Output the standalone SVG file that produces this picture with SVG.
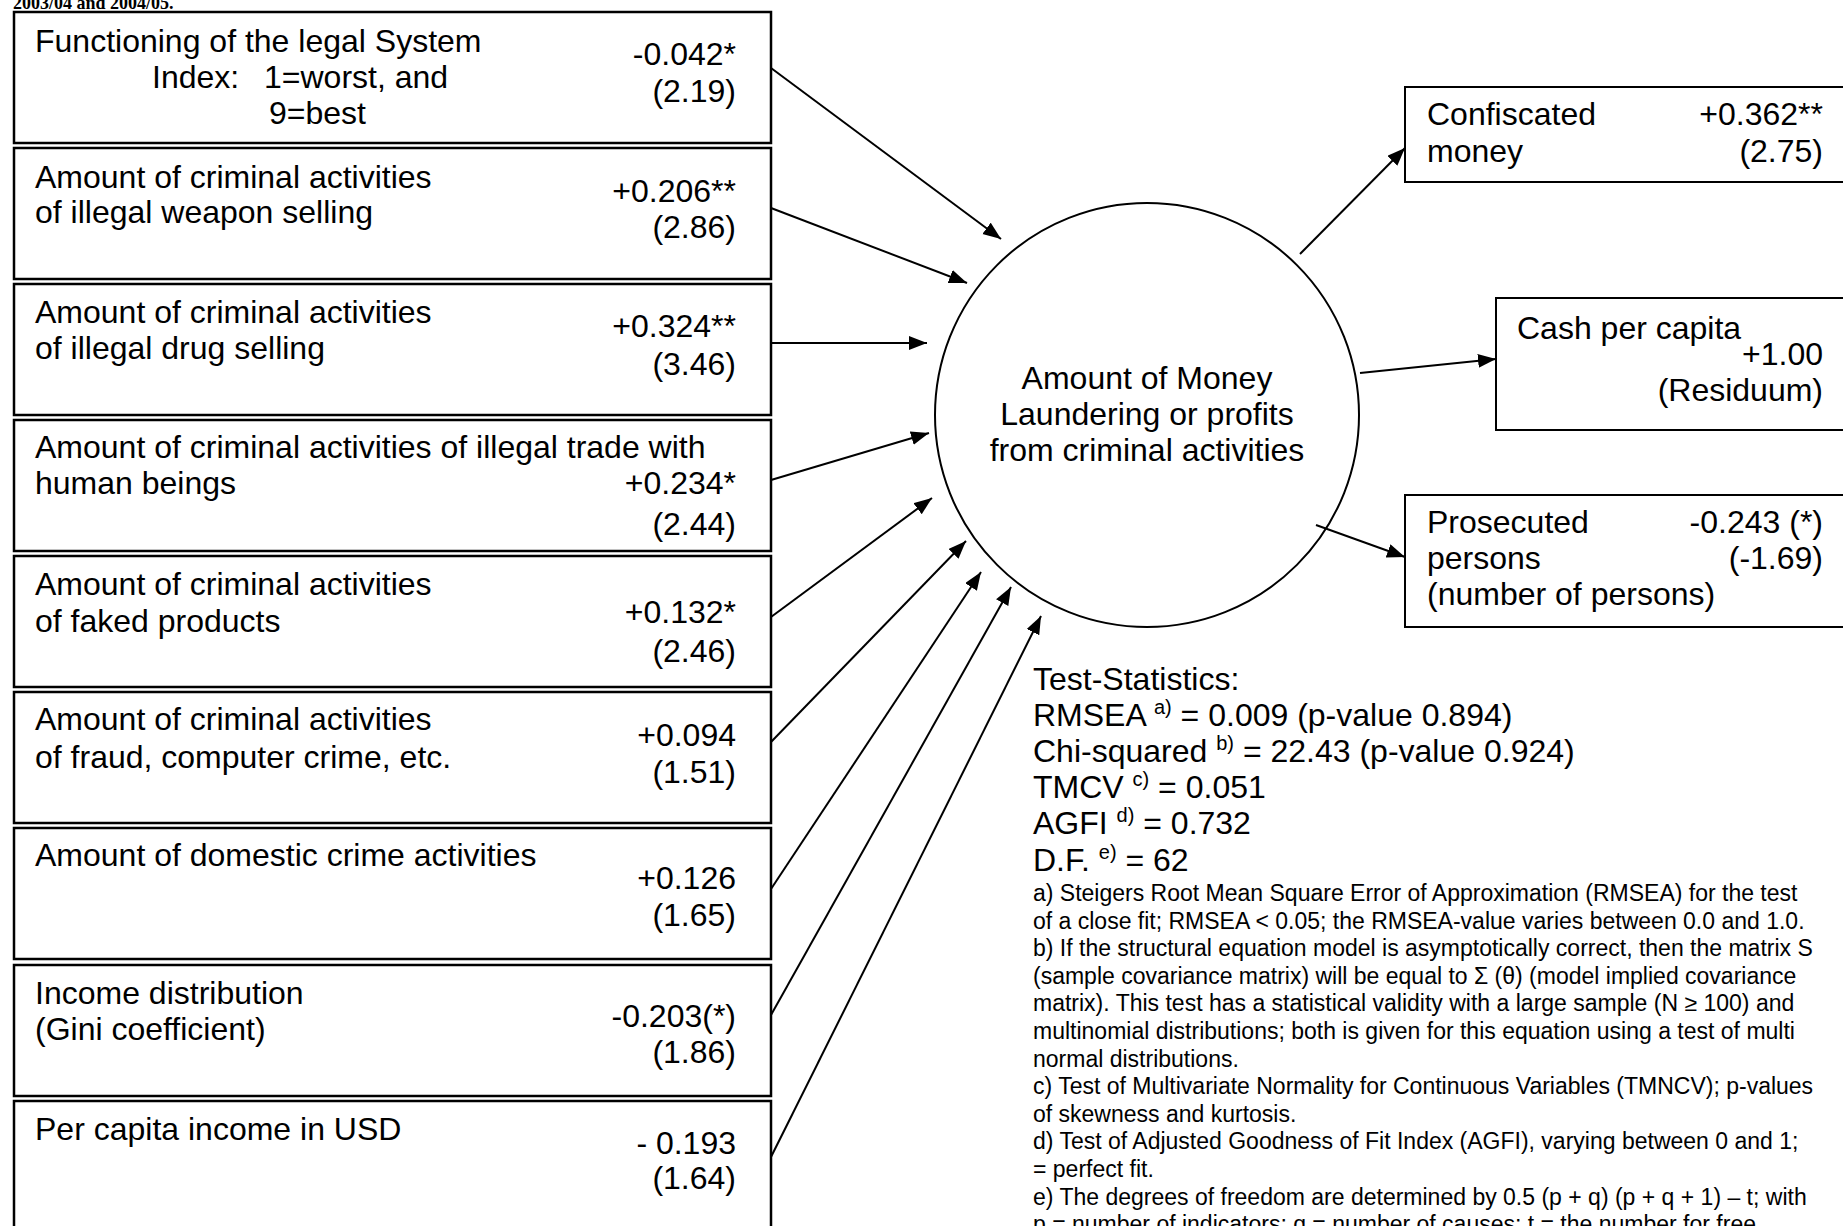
<svg xmlns="http://www.w3.org/2000/svg" width="1843" height="1226" viewBox="0 0 1843 1226">
<style>
text{font-family:"Liberation Sans",Arial,sans-serif;fill:#000}
.t{font-size:32px}
.v{font-size:32px;text-anchor:end}
.s{font-size:32px}
.sup{font-size:20px}
.f{font-size:23px}
.lb{fill:#fff;stroke:#000;stroke-width:2.5}
.rb{fill:#fff;stroke:#000;stroke-width:2}
.cn{stroke:#000;stroke-width:2;fill:none;marker-end:url(#ah)}
</style>
<defs>
<marker id="ah" markerUnits="userSpaceOnUse" markerWidth="20" markerHeight="16" refX="18" refY="7" orient="auto"><path d="M0,0 L18,7 L0,14 z" fill="#000"/></marker>
</defs>
<rect width="1843" height="1226" fill="#fff"/>
<text x="13" y="9" style="font-family:'Liberation Serif','Times New Roman',serif;font-weight:bold;font-size:18px">2003/04 and 2004/05.</text>

<g id="n1"><rect class="lb" x="14" y="12" width="757" height="131"/>
<text class="t" x="35" y="52">Functioning of the legal System</text>
<text class="t" x="152" y="88">Index:</text><text class="t" x="264" y="88">1=worst, and</text>
<text class="t" x="269" y="124">9=best</text>
<text class="v" x="736" y="65">-0.042*</text><text class="v" x="736" y="102">(2.19)</text></g>

<g id="n2"><rect class="lb" x="14" y="148" width="757" height="131"/>
<text class="t" x="35" y="188">Amount of criminal activities</text>
<text class="t" x="35" y="223">of illegal weapon selling</text>
<text class="v" x="736" y="202">+0.206**</text><text class="v" x="736" y="238">(2.86)</text></g>

<g id="n3"><rect class="lb" x="14" y="284" width="757" height="131"/>
<text class="t" x="35" y="323">Amount of criminal activities</text>
<text class="t" x="35" y="359">of illegal drug selling</text>
<text class="v" x="736" y="337">+0.324**</text><text class="v" x="736" y="375">(3.46)</text></g>

<g id="n4"><rect class="lb" x="14" y="420" width="757" height="131"/>
<text class="t" x="35" y="458">Amount of criminal activities of illegal trade with</text>
<text class="t" x="35" y="494">human beings</text>
<text class="v" x="736" y="494">+0.234*</text><text class="v" x="736" y="535">(2.44)</text></g>

<g id="n5"><rect class="lb" x="14" y="556" width="757" height="131"/>
<text class="t" x="35" y="595">Amount of criminal activities</text>
<text class="t" x="35" y="632">of faked products</text>
<text class="v" x="736" y="623">+0.132*</text><text class="v" x="736" y="662">(2.46)</text></g>

<g id="n6"><rect class="lb" x="14" y="692" width="757" height="131"/>
<text class="t" x="35" y="730">Amount of criminal activities</text>
<text class="t" x="35" y="768">of fraud, computer crime, etc.</text>
<text class="v" x="736" y="746">+0.094</text><text class="v" x="736" y="783">(1.51)</text></g>

<g id="n7"><rect class="lb" x="14" y="828" width="757" height="131"/>
<text class="t" x="35" y="866">Amount of domestic crime activities</text>
<text class="v" x="736" y="889">+0.126</text><text class="v" x="736" y="926">(1.65)</text></g>

<g id="n8"><rect class="lb" x="14" y="965" width="757" height="131"/>
<text class="t" x="35" y="1004">Income distribution</text>
<text class="t" x="35" y="1040">(Gini coefficient)</text>
<text class="v" x="736" y="1027">-0.203(*)</text><text class="v" x="736" y="1063">(1.86)</text></g>

<g id="n9"><rect class="lb" x="14" y="1101" width="757" height="140"/>
<text class="t" x="35" y="1140">Per capita income in USD</text>
<text class="v" x="736" y="1154">- 0.193</text><text class="v" x="736" y="1189">(1.64)</text></g>

<g id="center"><circle cx="1147" cy="415" r="212" fill="#fff" stroke="#000" stroke-width="2"/>
<text class="t" x="1147" y="389" text-anchor="middle">Amount of Money</text>
<text class="t" x="1147" y="425" text-anchor="middle">Laundering or profits</text>
<text class="t" x="1147" y="461" text-anchor="middle">from criminal activities</text></g>

<g id="o1"><rect class="rb" x="1405" y="87" width="450" height="95"/>
<text class="t" x="1427" y="125">Confiscated</text><text class="t" x="1427" y="162">money</text>
<text class="v" x="1823" y="125">+0.362**</text><text class="v" x="1823" y="162">(2.75)</text></g>

<g id="o2"><rect class="rb" x="1496" y="298" width="360" height="132"/>
<text class="t" x="1517" y="339">Cash per capita</text>
<text class="v" x="1823" y="365">+1.00</text><text class="v" x="1823" y="401">(Residuum)</text></g>

<g id="o3"><rect class="rb" x="1405" y="495" width="450" height="132"/>
<text class="t" x="1427" y="533">Prosecuted</text><text class="t" x="1427" y="569">persons</text>
<text class="t" x="1427" y="605">(number of persons)</text>
<text class="v" x="1823" y="533">-0.243 (*)</text><text class="v" x="1823" y="569">(-1.69)</text></g>

<g id="connectors">
<line class="cn" x1="771" y1="68" x2="1001" y2="239"/>
<line class="cn" x1="771" y1="208" x2="967" y2="283"/>
<line class="cn" x1="771" y1="343" x2="927" y2="343"/>
<line class="cn" x1="771" y1="480" x2="929" y2="433"/>
<line class="cn" x1="771" y1="617" x2="932" y2="498"/>
<line class="cn" x1="771" y1="742" x2="966" y2="541"/>
<line class="cn" x1="771" y1="889" x2="981" y2="572"/>
<line class="cn" x1="771" y1="1015" x2="1011" y2="587"/>
<line class="cn" x1="771" y1="1157" x2="1041" y2="616"/>
<line class="cn" x1="1300" y1="254" x2="1405" y2="148"/>
<line class="cn" x1="1360" y1="373" x2="1496" y2="359"/>
<line class="cn" x1="1316" y1="525" x2="1405" y2="557"/>
</g>

<g id="stats">
<text class="s" x="1033" y="690">Test-Statistics:</text>
<text class="s" x="1033" y="726">RMSEA <tspan class="sup" dy="-12">a)</tspan><tspan dy="12"> = 0.009 (p-value 0.894)</tspan></text>
<text class="s" x="1033" y="762">Chi-squared <tspan class="sup" dy="-12">b)</tspan><tspan dy="12"> = 22.43 (p-value 0.924)</tspan></text>
<text class="s" x="1033" y="798">TMCV <tspan class="sup" dy="-12">c)</tspan><tspan dy="12"> = 0.051</tspan></text>
<text class="s" x="1033" y="834">AGFI <tspan class="sup" dy="-12">d)</tspan><tspan dy="12"> = 0.732</tspan></text>
<text class="s" x="1033" y="871">D.F. <tspan class="sup" dy="-12">e)</tspan><tspan dy="12"> = 62</tspan></text>
<text class="f" x="1033" y="901">a) Steigers Root Mean Square Error of Approximation (RMSEA) for the test</text>
<text class="f" x="1033" y="929">of a close fit; RMSEA &lt; 0.05; the RMSEA-value varies between 0.0 and 1.0.</text>
<text class="f" x="1033" y="956">b) If the structural equation model is asymptotically correct, then the matrix S</text>
<text class="f" x="1033" y="984">(sample covariance matrix) will be equal to Σ (θ) (model implied covariance</text>
<text class="f" x="1033" y="1011">matrix). This test has a statistical validity with a large sample (N ≥ 100) and</text>
<text class="f" x="1033" y="1039">multinomial distributions; both is given for this equation using a test of multi</text>
<text class="f" x="1033" y="1067">normal distributions.</text>
<text class="f" x="1033" y="1094">c) Test of Multivariate Normality for Continuous Variables (TMNCV); p-values</text>
<text class="f" x="1033" y="1122">of skewness and kurtosis.</text>
<text class="f" x="1033" y="1149">d) Test of Adjusted Goodness of Fit Index (AGFI), varying between 0 and 1;</text>
<text class="f" x="1033" y="1177">= perfect fit.</text>
<text class="f" x="1033" y="1205">e) The degrees of freedom are determined by 0.5 (p + q) (p + q + 1) – t; with</text>
<text class="f" x="1033" y="1232">p = number of indicators; q = number of causes; t = the number for free</text>
</g>
</svg>
